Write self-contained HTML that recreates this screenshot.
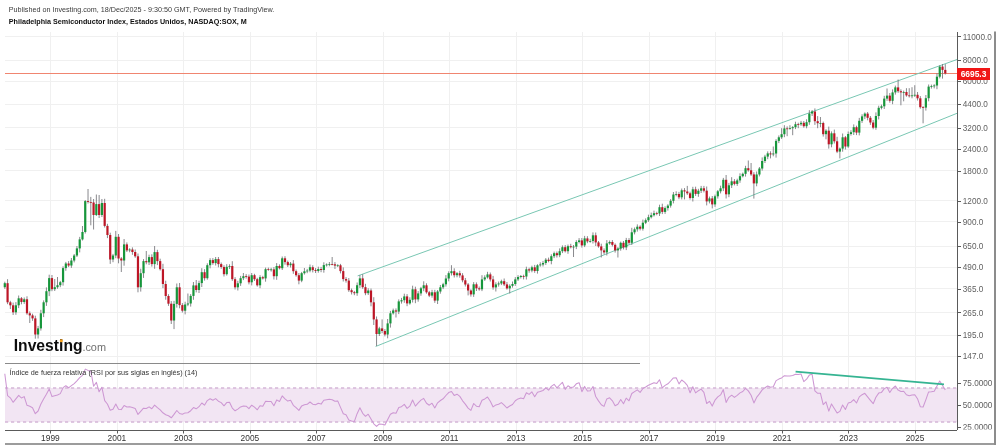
<!DOCTYPE html>
<html lang="es"><head><meta charset="utf-8"><title>Philadelphia Semiconductor Index</title>
<style>html,body{margin:0;padding:0;background:#fff}body{width:999px;height:447px;overflow:hidden}</style></head>
<body>
<svg width="999" height="447" viewBox="0 0 999 447" style="display:block;font-family:'Liberation Sans',Arial,sans-serif">
<rect width="999" height="447" fill="#fff"/>
<filter id="nf" x="0" y="0" width="999" height="447" filterUnits="userSpaceOnUse"><feGaussianBlur stdDeviation="0.42"/></filter>
<g filter="url(#nf)">
<line x1="5" x2="957" y1="36.5" y2="36.5" stroke="#f0f0f0" stroke-width="1"/>
<line x1="5" x2="957" y1="60.5" y2="60.5" stroke="#f0f0f0" stroke-width="1"/>
<line x1="5" x2="957" y1="81.5" y2="81.5" stroke="#f0f0f0" stroke-width="1"/>
<line x1="5" x2="957" y1="104.5" y2="104.5" stroke="#f0f0f0" stroke-width="1"/>
<line x1="5" x2="957" y1="127.5" y2="127.5" stroke="#f0f0f0" stroke-width="1"/>
<line x1="5" x2="957" y1="149.5" y2="149.5" stroke="#f0f0f0" stroke-width="1"/>
<line x1="5" x2="957" y1="170.5" y2="170.5" stroke="#f0f0f0" stroke-width="1"/>
<line x1="5" x2="957" y1="200.5" y2="200.5" stroke="#f0f0f0" stroke-width="1"/>
<line x1="5" x2="957" y1="221.5" y2="221.5" stroke="#f0f0f0" stroke-width="1"/>
<line x1="5" x2="957" y1="246.5" y2="246.5" stroke="#f0f0f0" stroke-width="1"/>
<line x1="5" x2="957" y1="267.5" y2="267.5" stroke="#f0f0f0" stroke-width="1"/>
<line x1="5" x2="957" y1="288.5" y2="288.5" stroke="#f0f0f0" stroke-width="1"/>
<line x1="5" x2="957" y1="312.5" y2="312.5" stroke="#f0f0f0" stroke-width="1"/>
<line x1="5" x2="957" y1="335.5" y2="335.5" stroke="#f0f0f0" stroke-width="1"/>
<line x1="5" x2="957" y1="356.5" y2="356.5" stroke="#f0f0f0" stroke-width="1"/>
<line x1="50.5" x2="50.5" y1="32" y2="430" stroke="#f0f0f0" stroke-width="1"/>
<line x1="117.5" x2="117.5" y1="32" y2="430" stroke="#f0f0f0" stroke-width="1"/>
<line x1="183.5" x2="183.5" y1="32" y2="430" stroke="#f0f0f0" stroke-width="1"/>
<line x1="250.5" x2="250.5" y1="32" y2="430" stroke="#f0f0f0" stroke-width="1"/>
<line x1="316.5" x2="316.5" y1="32" y2="430" stroke="#f0f0f0" stroke-width="1"/>
<line x1="383.5" x2="383.5" y1="32" y2="430" stroke="#f0f0f0" stroke-width="1"/>
<line x1="449.5" x2="449.5" y1="32" y2="430" stroke="#f0f0f0" stroke-width="1"/>
<line x1="516.5" x2="516.5" y1="32" y2="430" stroke="#f0f0f0" stroke-width="1"/>
<line x1="582.5" x2="582.5" y1="32" y2="430" stroke="#f0f0f0" stroke-width="1"/>
<line x1="649.5" x2="649.5" y1="32" y2="430" stroke="#f0f0f0" stroke-width="1"/>
<line x1="715.5" x2="715.5" y1="32" y2="430" stroke="#f0f0f0" stroke-width="1"/>
<line x1="782.5" x2="782.5" y1="32" y2="430" stroke="#f0f0f0" stroke-width="1"/>
<line x1="848.5" x2="848.5" y1="32" y2="430" stroke="#f0f0f0" stroke-width="1"/>
<line x1="915.5" x2="915.5" y1="32" y2="430" stroke="#f0f0f0" stroke-width="1"/>
<rect x="5" y="388" width="952" height="34" fill="#f2e5f3"/>
<line x1="5" x2="957" y1="388" y2="388" stroke="#d5b6d8" stroke-width="1.3" stroke-dasharray="3.2,2.8"/>
<line x1="5" x2="957" y1="422" y2="422" stroke="#d5b6d8" stroke-width="1.3" stroke-dasharray="3.2,2.8"/>
<line x1="5" x2="957" y1="73.5" y2="73.5" stroke="#f0856f" stroke-width="1"/>
<line x1="357.6" y1="275.9" x2="957" y2="59.5" stroke="#79c7b3" stroke-width="1"/>
<line x1="375.6" y1="346.5" x2="957" y2="113.3" stroke="#79c7b3" stroke-width="1"/>
<line x1="4.80" x2="4.80" y1="281.7" y2="288.9" stroke="#7c7c80" stroke-width="0.9"/>
<rect x="3.70" y="283.2" width="2.2" height="4.0" fill="#17963a"/>
<line x1="7.57" x2="7.57" y1="279.2" y2="304.2" stroke="#7c7c80" stroke-width="0.9"/>
<rect x="6.47" y="283.2" width="2.2" height="19.1" fill="#bd1626"/>
<line x1="10.35" x2="10.35" y1="300.8" y2="309.0" stroke="#7c7c80" stroke-width="0.9"/>
<rect x="9.25" y="302.3" width="2.2" height="3.0" fill="#bd1626"/>
<line x1="13.12" x2="13.12" y1="302.6" y2="315.0" stroke="#7c7c80" stroke-width="0.9"/>
<rect x="12.02" y="305.3" width="2.2" height="7.0" fill="#bd1626"/>
<line x1="15.90" x2="15.90" y1="302.1" y2="314.8" stroke="#7c7c80" stroke-width="0.9"/>
<rect x="14.80" y="305.3" width="2.2" height="7.0" fill="#17963a"/>
<line x1="18.67" x2="18.67" y1="295.5" y2="308.1" stroke="#7c7c80" stroke-width="0.9"/>
<rect x="17.57" y="298.3" width="2.2" height="7.0" fill="#17963a"/>
<line x1="21.45" x2="21.45" y1="297.0" y2="304.3" stroke="#7c7c80" stroke-width="0.9"/>
<rect x="20.35" y="298.3" width="2.2" height="3.7" fill="#bd1626"/>
<line x1="24.22" x2="24.22" y1="297.5" y2="303.9" stroke="#7c7c80" stroke-width="0.9"/>
<rect x="23.12" y="299.3" width="2.2" height="2.7" fill="#17963a"/>
<line x1="26.99" x2="26.99" y1="296.3" y2="314.8" stroke="#7c7c80" stroke-width="0.9"/>
<rect x="25.89" y="299.3" width="2.2" height="14.0" fill="#bd1626"/>
<line x1="29.77" x2="29.77" y1="311.4" y2="323.0" stroke="#7c7c80" stroke-width="0.9"/>
<rect x="28.67" y="313.3" width="2.2" height="2.1" fill="#bd1626"/>
<line x1="32.54" x2="32.54" y1="313.7" y2="320.8" stroke="#7c7c80" stroke-width="0.9"/>
<rect x="31.44" y="315.4" width="2.2" height="3.0" fill="#bd1626"/>
<line x1="35.32" x2="35.32" y1="315.7" y2="338.7" stroke="#7c7c80" stroke-width="0.9"/>
<rect x="34.22" y="318.4" width="2.2" height="16.1" fill="#bd1626"/>
<line x1="38.09" x2="38.09" y1="325.9" y2="338.5" stroke="#7c7c80" stroke-width="0.9"/>
<rect x="36.99" y="328.4" width="2.2" height="6.1" fill="#17963a"/>
<line x1="40.87" x2="40.87" y1="309.8" y2="330.6" stroke="#7c7c80" stroke-width="0.9"/>
<rect x="39.77" y="313.3" width="2.2" height="15.1" fill="#17963a"/>
<line x1="43.64" x2="43.64" y1="300.4" y2="317.1" stroke="#7c7c80" stroke-width="0.9"/>
<rect x="42.54" y="302.3" width="2.2" height="11.0" fill="#17963a"/>
<line x1="46.41" x2="46.41" y1="287.4" y2="305.9" stroke="#7c7c80" stroke-width="0.9"/>
<rect x="45.31" y="291.2" width="2.2" height="11.1" fill="#17963a"/>
<line x1="49.19" x2="49.19" y1="274.7" y2="296.1" stroke="#7c7c80" stroke-width="0.9"/>
<rect x="48.09" y="278.1" width="2.2" height="13.1" fill="#17963a"/>
<line x1="51.96" x2="51.96" y1="275.0" y2="291.2" stroke="#7c7c80" stroke-width="0.9"/>
<rect x="50.86" y="278.1" width="2.2" height="11.1" fill="#bd1626"/>
<line x1="54.74" x2="54.74" y1="279.0" y2="291.0" stroke="#7c7c80" stroke-width="0.9"/>
<rect x="53.64" y="287.2" width="2.2" height="2.0" fill="#17963a"/>
<line x1="57.51" x2="57.51" y1="277.0" y2="288.8" stroke="#7c7c80" stroke-width="0.9"/>
<rect x="56.41" y="285.2" width="2.2" height="2.0" fill="#17963a"/>
<line x1="60.29" x2="60.29" y1="280.9" y2="287.2" stroke="#7c7c80" stroke-width="0.9"/>
<rect x="59.19" y="282.2" width="2.2" height="3.0" fill="#17963a"/>
<line x1="63.06" x2="63.06" y1="266.3" y2="285.6" stroke="#7c7c80" stroke-width="0.9"/>
<rect x="61.96" y="268.1" width="2.2" height="14.1" fill="#17963a"/>
<line x1="65.83" x2="65.83" y1="261.9" y2="270.8" stroke="#7c7c80" stroke-width="0.9"/>
<rect x="64.73" y="263.5" width="2.2" height="4.6" fill="#17963a"/>
<line x1="68.61" x2="68.61" y1="261.1" y2="267.1" stroke="#7c7c80" stroke-width="0.9"/>
<rect x="67.51" y="263.5" width="2.2" height="2.0" fill="#bd1626"/>
<line x1="71.38" x2="71.38" y1="258.0" y2="267.9" stroke="#7c7c80" stroke-width="0.9"/>
<rect x="70.28" y="260.5" width="2.2" height="5.0" fill="#17963a"/>
<line x1="74.16" x2="74.16" y1="254.0" y2="262.4" stroke="#7c7c80" stroke-width="0.9"/>
<rect x="73.06" y="255.5" width="2.2" height="5.0" fill="#17963a"/>
<line x1="76.93" x2="76.93" y1="246.0" y2="257.0" stroke="#7c7c80" stroke-width="0.9"/>
<rect x="75.83" y="248.4" width="2.2" height="7.1" fill="#17963a"/>
<line x1="79.71" x2="79.71" y1="236.9" y2="252.4" stroke="#7c7c80" stroke-width="0.9"/>
<rect x="78.61" y="239.4" width="2.2" height="9.0" fill="#17963a"/>
<line x1="82.48" x2="82.48" y1="226.0" y2="240.5" stroke="#7c7c80" stroke-width="0.9"/>
<rect x="81.38" y="232.0" width="2.2" height="7.4" fill="#17963a"/>
<line x1="85.25" x2="85.25" y1="200.0" y2="233.5" stroke="#7c7c80" stroke-width="0.9"/>
<rect x="84.15" y="201.1" width="2.2" height="30.9" fill="#17963a"/>
<line x1="88.03" x2="88.03" y1="189.0" y2="203.5" stroke="#7c7c80" stroke-width="0.9"/>
<rect x="86.93" y="201.1" width="2.2" height="0.9" fill="#bd1626"/>
<line x1="90.80" x2="90.80" y1="196.9" y2="225.3" stroke="#7c7c80" stroke-width="0.9"/>
<rect x="89.70" y="202.0" width="2.2" height="0.8" fill="#bd1626"/>
<line x1="93.58" x2="93.58" y1="199.0" y2="229.5" stroke="#7c7c80" stroke-width="0.9"/>
<rect x="92.48" y="202.5" width="2.2" height="12.5" fill="#bd1626"/>
<line x1="96.35" x2="96.35" y1="194.5" y2="216.0" stroke="#7c7c80" stroke-width="0.9"/>
<rect x="95.25" y="204.1" width="2.2" height="10.9" fill="#17963a"/>
<line x1="99.13" x2="99.13" y1="195.0" y2="218.0" stroke="#7c7c80" stroke-width="0.9"/>
<rect x="98.03" y="204.1" width="2.2" height="10.9" fill="#bd1626"/>
<line x1="101.90" x2="101.90" y1="199.0" y2="217.0" stroke="#7c7c80" stroke-width="0.9"/>
<rect x="100.80" y="203.0" width="2.2" height="12.0" fill="#17963a"/>
<line x1="104.67" x2="104.67" y1="198.8" y2="227.5" stroke="#7c7c80" stroke-width="0.9"/>
<rect x="103.57" y="203.0" width="2.2" height="22.9" fill="#bd1626"/>
<line x1="107.45" x2="107.45" y1="223.8" y2="238.1" stroke="#7c7c80" stroke-width="0.9"/>
<rect x="106.35" y="225.9" width="2.2" height="9.1" fill="#bd1626"/>
<line x1="110.22" x2="110.22" y1="232.7" y2="263.9" stroke="#7c7c80" stroke-width="0.9"/>
<rect x="109.12" y="235.0" width="2.2" height="24.5" fill="#bd1626"/>
<line x1="113.00" x2="113.00" y1="253.9" y2="262.2" stroke="#7c7c80" stroke-width="0.9"/>
<rect x="111.90" y="255.5" width="2.2" height="4.0" fill="#17963a"/>
<line x1="115.77" x2="115.77" y1="230.9" y2="258.2" stroke="#7c7c80" stroke-width="0.9"/>
<rect x="114.67" y="236.8" width="2.2" height="18.7" fill="#17963a"/>
<line x1="118.55" x2="118.55" y1="234.0" y2="263.3" stroke="#7c7c80" stroke-width="0.9"/>
<rect x="117.45" y="236.8" width="2.2" height="21.7" fill="#bd1626"/>
<line x1="121.32" x2="121.32" y1="257.1" y2="272.0" stroke="#7c7c80" stroke-width="0.9"/>
<rect x="120.22" y="258.5" width="2.2" height="2.0" fill="#bd1626"/>
<line x1="124.09" x2="124.09" y1="239.0" y2="265.7" stroke="#7c7c80" stroke-width="0.9"/>
<rect x="122.99" y="244.4" width="2.2" height="16.1" fill="#17963a"/>
<line x1="126.87" x2="126.87" y1="242.4" y2="252.0" stroke="#7c7c80" stroke-width="0.9"/>
<rect x="125.77" y="244.4" width="2.2" height="6.0" fill="#bd1626"/>
<line x1="129.64" x2="129.64" y1="248.2" y2="252.3" stroke="#7c7c80" stroke-width="0.9"/>
<rect x="128.54" y="249.5" width="2.2" height="0.9" fill="#17963a"/>
<line x1="132.42" x2="132.42" y1="247.4" y2="254.8" stroke="#7c7c80" stroke-width="0.9"/>
<rect x="131.32" y="249.5" width="2.2" height="2.5" fill="#bd1626"/>
<line x1="135.19" x2="135.19" y1="249.5" y2="257.8" stroke="#7c7c80" stroke-width="0.9"/>
<rect x="134.09" y="252.0" width="2.2" height="4.3" fill="#bd1626"/>
<line x1="137.97" x2="137.97" y1="253.5" y2="292.3" stroke="#7c7c80" stroke-width="0.9"/>
<rect x="136.87" y="256.3" width="2.2" height="31.0" fill="#bd1626"/>
<line x1="140.74" x2="140.74" y1="268.7" y2="291.6" stroke="#7c7c80" stroke-width="0.9"/>
<rect x="139.64" y="273.2" width="2.2" height="14.1" fill="#17963a"/>
<line x1="143.52" x2="143.52" y1="259.1" y2="277.9" stroke="#7c7c80" stroke-width="0.9"/>
<rect x="142.42" y="261.1" width="2.2" height="12.1" fill="#17963a"/>
<line x1="146.29" x2="146.29" y1="251.0" y2="264.3" stroke="#7c7c80" stroke-width="0.9"/>
<rect x="145.19" y="261.1" width="2.2" height="1.2" fill="#bd1626"/>
<line x1="149.06" x2="149.06" y1="254.7" y2="265.0" stroke="#7c7c80" stroke-width="0.9"/>
<rect x="147.96" y="257.1" width="2.2" height="5.2" fill="#17963a"/>
<line x1="151.84" x2="151.84" y1="254.3" y2="266.6" stroke="#7c7c80" stroke-width="0.9"/>
<rect x="150.74" y="257.1" width="2.2" height="7.0" fill="#bd1626"/>
<line x1="154.61" x2="154.61" y1="246.0" y2="268.8" stroke="#7c7c80" stroke-width="0.9"/>
<rect x="153.51" y="252.1" width="2.2" height="12.0" fill="#17963a"/>
<line x1="157.39" x2="157.39" y1="249.8" y2="265.1" stroke="#7c7c80" stroke-width="0.9"/>
<rect x="156.29" y="252.1" width="2.2" height="9.0" fill="#bd1626"/>
<line x1="160.16" x2="160.16" y1="258.7" y2="270.5" stroke="#7c7c80" stroke-width="0.9"/>
<rect x="159.06" y="261.1" width="2.2" height="8.1" fill="#bd1626"/>
<line x1="162.94" x2="162.94" y1="263.8" y2="288.1" stroke="#7c7c80" stroke-width="0.9"/>
<rect x="161.84" y="269.2" width="2.2" height="14.8" fill="#bd1626"/>
<line x1="165.71" x2="165.71" y1="280.7" y2="299.7" stroke="#7c7c80" stroke-width="0.9"/>
<rect x="164.61" y="284.0" width="2.2" height="12.0" fill="#bd1626"/>
<line x1="168.48" x2="168.48" y1="294.2" y2="305.9" stroke="#7c7c80" stroke-width="0.9"/>
<rect x="167.38" y="296.0" width="2.2" height="7.7" fill="#bd1626"/>
<line x1="171.26" x2="171.26" y1="301.1" y2="324.0" stroke="#7c7c80" stroke-width="0.9"/>
<rect x="170.16" y="303.7" width="2.2" height="16.8" fill="#bd1626"/>
<line x1="174.03" x2="174.03" y1="300.9" y2="329.1" stroke="#7c7c80" stroke-width="0.9"/>
<rect x="172.93" y="303.9" width="2.2" height="16.6" fill="#17963a"/>
<line x1="176.81" x2="176.81" y1="283.5" y2="307.6" stroke="#7c7c80" stroke-width="0.9"/>
<rect x="175.71" y="287.3" width="2.2" height="16.6" fill="#17963a"/>
<line x1="179.58" x2="179.58" y1="283.0" y2="308.3" stroke="#7c7c80" stroke-width="0.9"/>
<rect x="178.48" y="287.3" width="2.2" height="17.8" fill="#bd1626"/>
<line x1="182.36" x2="182.36" y1="303.1" y2="312.5" stroke="#7c7c80" stroke-width="0.9"/>
<rect x="181.26" y="305.1" width="2.2" height="5.6" fill="#bd1626"/>
<line x1="185.13" x2="185.13" y1="301.7" y2="314.4" stroke="#7c7c80" stroke-width="0.9"/>
<rect x="184.03" y="304.5" width="2.2" height="6.2" fill="#17963a"/>
<line x1="187.90" x2="187.90" y1="293.5" y2="306.2" stroke="#7c7c80" stroke-width="0.9"/>
<rect x="186.80" y="303.5" width="2.2" height="1.0" fill="#17963a"/>
<line x1="190.68" x2="190.68" y1="294.1" y2="306.6" stroke="#7c7c80" stroke-width="0.9"/>
<rect x="189.58" y="295.9" width="2.2" height="7.6" fill="#17963a"/>
<line x1="193.45" x2="193.45" y1="282.0" y2="299.8" stroke="#7c7c80" stroke-width="0.9"/>
<rect x="192.35" y="285.4" width="2.2" height="10.5" fill="#17963a"/>
<line x1="196.23" x2="196.23" y1="280.0" y2="292.4" stroke="#7c7c80" stroke-width="0.9"/>
<rect x="195.13" y="285.4" width="2.2" height="4.6" fill="#bd1626"/>
<line x1="199.00" x2="199.00" y1="280.7" y2="293.0" stroke="#7c7c80" stroke-width="0.9"/>
<rect x="197.90" y="283.1" width="2.2" height="6.9" fill="#17963a"/>
<line x1="201.78" x2="201.78" y1="268.2" y2="287.0" stroke="#7c7c80" stroke-width="0.9"/>
<rect x="200.68" y="272.2" width="2.2" height="10.9" fill="#17963a"/>
<line x1="204.55" x2="204.55" y1="269.2" y2="280.6" stroke="#7c7c80" stroke-width="0.9"/>
<rect x="203.45" y="272.2" width="2.2" height="6.0" fill="#bd1626"/>
<line x1="207.32" x2="207.32" y1="263.3" y2="279.7" stroke="#7c7c80" stroke-width="0.9"/>
<rect x="206.22" y="265.2" width="2.2" height="13.0" fill="#17963a"/>
<line x1="210.10" x2="210.10" y1="258.2" y2="268.3" stroke="#7c7c80" stroke-width="0.9"/>
<rect x="209.00" y="260.1" width="2.2" height="5.1" fill="#17963a"/>
<line x1="212.87" x2="212.87" y1="258.1" y2="264.8" stroke="#7c7c80" stroke-width="0.9"/>
<rect x="211.77" y="260.1" width="2.2" height="3.0" fill="#bd1626"/>
<line x1="215.65" x2="215.65" y1="257.0" y2="265.5" stroke="#7c7c80" stroke-width="0.9"/>
<rect x="214.55" y="259.1" width="2.2" height="4.0" fill="#17963a"/>
<line x1="218.42" x2="218.42" y1="257.0" y2="267.3" stroke="#7c7c80" stroke-width="0.9"/>
<rect x="217.32" y="259.1" width="2.2" height="5.0" fill="#bd1626"/>
<line x1="221.20" x2="221.20" y1="262.5" y2="268.8" stroke="#7c7c80" stroke-width="0.9"/>
<rect x="220.10" y="264.1" width="2.2" height="2.9" fill="#bd1626"/>
<line x1="223.97" x2="223.97" y1="265.3" y2="276.5" stroke="#7c7c80" stroke-width="0.9"/>
<rect x="222.87" y="267.0" width="2.2" height="7.2" fill="#bd1626"/>
<line x1="226.74" x2="226.74" y1="264.2" y2="275.6" stroke="#7c7c80" stroke-width="0.9"/>
<rect x="225.64" y="266.8" width="2.2" height="7.4" fill="#17963a"/>
<line x1="229.52" x2="229.52" y1="264.3" y2="269.0" stroke="#7c7c80" stroke-width="0.9"/>
<rect x="228.42" y="266.0" width="2.2" height="0.8" fill="#17963a"/>
<line x1="232.29" x2="232.29" y1="261.2" y2="280.9" stroke="#7c7c80" stroke-width="0.9"/>
<rect x="231.19" y="266.0" width="2.2" height="13.2" fill="#bd1626"/>
<line x1="235.07" x2="235.07" y1="277.2" y2="289.5" stroke="#7c7c80" stroke-width="0.9"/>
<rect x="233.97" y="279.2" width="2.2" height="8.1" fill="#bd1626"/>
<line x1="237.84" x2="237.84" y1="280.8" y2="290.5" stroke="#7c7c80" stroke-width="0.9"/>
<rect x="236.74" y="283.3" width="2.2" height="4.0" fill="#17963a"/>
<line x1="240.62" x2="240.62" y1="275.9" y2="285.9" stroke="#7c7c80" stroke-width="0.9"/>
<rect x="239.52" y="278.2" width="2.2" height="5.1" fill="#17963a"/>
<line x1="243.39" x2="243.39" y1="273.0" y2="280.1" stroke="#7c7c80" stroke-width="0.9"/>
<rect x="242.29" y="276.2" width="2.2" height="2.0" fill="#17963a"/>
<line x1="246.16" x2="246.16" y1="274.1" y2="278.6" stroke="#7c7c80" stroke-width="0.9"/>
<rect x="245.06" y="276.2" width="2.2" height="0.8" fill="#bd1626"/>
<line x1="248.94" x2="248.94" y1="274.5" y2="284.4" stroke="#7c7c80" stroke-width="0.9"/>
<rect x="247.84" y="276.6" width="2.2" height="5.7" fill="#bd1626"/>
<line x1="251.71" x2="251.71" y1="273.0" y2="285.4" stroke="#7c7c80" stroke-width="0.9"/>
<rect x="250.61" y="275.2" width="2.2" height="7.1" fill="#17963a"/>
<line x1="254.49" x2="254.49" y1="273.8" y2="281.0" stroke="#7c7c80" stroke-width="0.9"/>
<rect x="253.39" y="275.2" width="2.2" height="4.0" fill="#bd1626"/>
<line x1="257.26" x2="257.26" y1="277.8" y2="286.6" stroke="#7c7c80" stroke-width="0.9"/>
<rect x="256.16" y="279.2" width="2.2" height="6.1" fill="#bd1626"/>
<line x1="260.04" x2="260.04" y1="275.2" y2="288.2" stroke="#7c7c80" stroke-width="0.9"/>
<rect x="258.94" y="277.2" width="2.2" height="8.1" fill="#17963a"/>
<line x1="262.81" x2="262.81" y1="275.8" y2="279.5" stroke="#7c7c80" stroke-width="0.9"/>
<rect x="261.71" y="277.2" width="2.2" height="1.2" fill="#bd1626"/>
<line x1="265.58" x2="265.58" y1="267.6" y2="281.7" stroke="#7c7c80" stroke-width="0.9"/>
<rect x="264.48" y="269.2" width="2.2" height="9.2" fill="#17963a"/>
<line x1="268.36" x2="268.36" y1="267.6" y2="270.8" stroke="#7c7c80" stroke-width="0.9"/>
<rect x="267.26" y="269.2" width="2.2" height="0.8" fill="#bd1626"/>
<line x1="271.13" x2="271.13" y1="267.8" y2="271.6" stroke="#7c7c80" stroke-width="0.9"/>
<rect x="270.03" y="269.4" width="2.2" height="0.8" fill="#17963a"/>
<line x1="273.91" x2="273.91" y1="267.1" y2="279.5" stroke="#7c7c80" stroke-width="0.9"/>
<rect x="272.81" y="269.4" width="2.2" height="6.8" fill="#bd1626"/>
<line x1="276.68" x2="276.68" y1="263.1" y2="279.8" stroke="#7c7c80" stroke-width="0.9"/>
<rect x="275.58" y="266.0" width="2.2" height="10.2" fill="#17963a"/>
<line x1="279.46" x2="279.46" y1="264.4" y2="269.4" stroke="#7c7c80" stroke-width="0.9"/>
<rect x="278.36" y="266.0" width="2.2" height="2.2" fill="#bd1626"/>
<line x1="282.23" x2="282.23" y1="256.5" y2="270.0" stroke="#7c7c80" stroke-width="0.9"/>
<rect x="281.13" y="258.3" width="2.2" height="9.9" fill="#17963a"/>
<line x1="285.00" x2="285.00" y1="256.2" y2="264.7" stroke="#7c7c80" stroke-width="0.9"/>
<rect x="283.90" y="258.3" width="2.2" height="3.8" fill="#bd1626"/>
<line x1="287.78" x2="287.78" y1="260.6" y2="267.0" stroke="#7c7c80" stroke-width="0.9"/>
<rect x="286.68" y="262.1" width="2.2" height="3.1" fill="#bd1626"/>
<line x1="290.55" x2="290.55" y1="262.0" y2="267.5" stroke="#7c7c80" stroke-width="0.9"/>
<rect x="289.45" y="263.6" width="2.2" height="1.6" fill="#17963a"/>
<line x1="293.33" x2="293.33" y1="260.1" y2="273.8" stroke="#7c7c80" stroke-width="0.9"/>
<rect x="292.23" y="263.6" width="2.2" height="7.6" fill="#bd1626"/>
<line x1="296.10" x2="296.10" y1="269.5" y2="276.7" stroke="#7c7c80" stroke-width="0.9"/>
<rect x="295.00" y="271.2" width="2.2" height="4.0" fill="#bd1626"/>
<line x1="298.88" x2="298.88" y1="273.0" y2="284.3" stroke="#7c7c80" stroke-width="0.9"/>
<rect x="297.78" y="275.2" width="2.2" height="5.4" fill="#bd1626"/>
<line x1="301.65" x2="301.65" y1="271.9" y2="282.2" stroke="#7c7c80" stroke-width="0.9"/>
<rect x="300.55" y="273.2" width="2.2" height="7.4" fill="#17963a"/>
<line x1="304.42" x2="304.42" y1="268.0" y2="274.6" stroke="#7c7c80" stroke-width="0.9"/>
<rect x="303.32" y="271.3" width="2.2" height="1.9" fill="#17963a"/>
<line x1="307.20" x2="307.20" y1="268.9" y2="273.2" stroke="#7c7c80" stroke-width="0.9"/>
<rect x="306.10" y="270.6" width="2.2" height="0.8" fill="#17963a"/>
<line x1="309.97" x2="309.97" y1="264.5" y2="272.3" stroke="#7c7c80" stroke-width="0.9"/>
<rect x="308.87" y="267.2" width="2.2" height="3.4" fill="#17963a"/>
<line x1="312.75" x2="312.75" y1="265.3" y2="272.4" stroke="#7c7c80" stroke-width="0.9"/>
<rect x="311.65" y="267.2" width="2.2" height="2.9" fill="#bd1626"/>
<line x1="315.52" x2="315.52" y1="268.1" y2="273.0" stroke="#7c7c80" stroke-width="0.9"/>
<rect x="314.42" y="270.1" width="2.2" height="0.9" fill="#bd1626"/>
<line x1="318.30" x2="318.30" y1="266.7" y2="272.7" stroke="#7c7c80" stroke-width="0.9"/>
<rect x="317.20" y="269.0" width="2.2" height="2.0" fill="#17963a"/>
<line x1="321.07" x2="321.07" y1="266.9" y2="272.2" stroke="#7c7c80" stroke-width="0.9"/>
<rect x="319.97" y="269.0" width="2.2" height="1.0" fill="#bd1626"/>
<line x1="323.84" x2="323.84" y1="262.3" y2="272.7" stroke="#7c7c80" stroke-width="0.9"/>
<rect x="322.74" y="265.1" width="2.2" height="4.9" fill="#17963a"/>
<line x1="326.62" x2="326.62" y1="263.4" y2="266.6" stroke="#7c7c80" stroke-width="0.9"/>
<rect x="325.52" y="264.5" width="2.2" height="0.8" fill="#17963a"/>
<line x1="329.39" x2="329.39" y1="262.0" y2="266.3" stroke="#7c7c80" stroke-width="0.9"/>
<rect x="328.29" y="264.0" width="2.2" height="0.8" fill="#17963a"/>
<line x1="332.17" x2="332.17" y1="257.0" y2="265.3" stroke="#7c7c80" stroke-width="0.9"/>
<rect x="331.07" y="264.0" width="2.2" height="0.8" fill="#bd1626"/>
<line x1="334.94" x2="334.94" y1="262.1" y2="269.0" stroke="#7c7c80" stroke-width="0.9"/>
<rect x="333.84" y="264.3" width="2.2" height="1.3" fill="#bd1626"/>
<line x1="337.72" x2="337.72" y1="264.2" y2="267.0" stroke="#7c7c80" stroke-width="0.9"/>
<rect x="336.62" y="265.3" width="2.2" height="0.8" fill="#17963a"/>
<line x1="340.49" x2="340.49" y1="263.9" y2="273.4" stroke="#7c7c80" stroke-width="0.9"/>
<rect x="339.39" y="265.3" width="2.2" height="5.8" fill="#bd1626"/>
<line x1="343.26" x2="343.26" y1="267.4" y2="281.5" stroke="#7c7c80" stroke-width="0.9"/>
<rect x="342.16" y="271.1" width="2.2" height="8.0" fill="#bd1626"/>
<line x1="346.04" x2="346.04" y1="277.1" y2="282.6" stroke="#7c7c80" stroke-width="0.9"/>
<rect x="344.94" y="279.1" width="2.2" height="1.5" fill="#bd1626"/>
<line x1="348.81" x2="348.81" y1="278.0" y2="291.9" stroke="#7c7c80" stroke-width="0.9"/>
<rect x="347.71" y="280.6" width="2.2" height="9.6" fill="#bd1626"/>
<line x1="351.59" x2="351.59" y1="288.5" y2="294.5" stroke="#7c7c80" stroke-width="0.9"/>
<rect x="350.49" y="290.2" width="2.2" height="2.0" fill="#bd1626"/>
<line x1="354.36" x2="354.36" y1="290.9" y2="295.2" stroke="#7c7c80" stroke-width="0.9"/>
<rect x="353.26" y="292.2" width="2.2" height="1.0" fill="#bd1626"/>
<line x1="357.14" x2="357.14" y1="282.5" y2="295.8" stroke="#7c7c80" stroke-width="0.9"/>
<rect x="356.04" y="285.2" width="2.2" height="8.0" fill="#17963a"/>
<line x1="359.91" x2="359.91" y1="275.0" y2="288.0" stroke="#7c7c80" stroke-width="0.9"/>
<rect x="358.81" y="278.4" width="2.2" height="6.8" fill="#17963a"/>
<line x1="362.68" x2="362.68" y1="274.1" y2="288.8" stroke="#7c7c80" stroke-width="0.9"/>
<rect x="361.58" y="278.4" width="2.2" height="8.8" fill="#bd1626"/>
<line x1="365.46" x2="365.46" y1="283.8" y2="295.2" stroke="#7c7c80" stroke-width="0.9"/>
<rect x="364.36" y="287.2" width="2.2" height="6.0" fill="#bd1626"/>
<line x1="368.23" x2="368.23" y1="288.2" y2="295.0" stroke="#7c7c80" stroke-width="0.9"/>
<rect x="367.13" y="290.5" width="2.2" height="2.7" fill="#17963a"/>
<line x1="371.01" x2="371.01" y1="288.5" y2="306.3" stroke="#7c7c80" stroke-width="0.9"/>
<rect x="369.91" y="290.5" width="2.2" height="11.8" fill="#bd1626"/>
<line x1="373.78" x2="373.78" y1="297.2" y2="325.0" stroke="#7c7c80" stroke-width="0.9"/>
<rect x="372.68" y="302.3" width="2.2" height="17.1" fill="#bd1626"/>
<line x1="376.56" x2="376.56" y1="316.5" y2="346.0" stroke="#7c7c80" stroke-width="0.9"/>
<rect x="375.46" y="319.4" width="2.2" height="14.6" fill="#bd1626"/>
<line x1="379.33" x2="379.33" y1="326.8" y2="336.0" stroke="#7c7c80" stroke-width="0.9"/>
<rect x="378.23" y="328.4" width="2.2" height="5.6" fill="#17963a"/>
<line x1="382.10" x2="382.10" y1="319.4" y2="333.2" stroke="#7c7c80" stroke-width="0.9"/>
<rect x="381.00" y="328.4" width="2.2" height="2.6" fill="#bd1626"/>
<line x1="384.88" x2="384.88" y1="329.1" y2="336.4" stroke="#7c7c80" stroke-width="0.9"/>
<rect x="383.78" y="331.0" width="2.2" height="3.5" fill="#bd1626"/>
<line x1="387.65" x2="387.65" y1="319.0" y2="338.3" stroke="#7c7c80" stroke-width="0.9"/>
<rect x="386.55" y="323.4" width="2.2" height="11.1" fill="#17963a"/>
<line x1="390.43" x2="390.43" y1="310.9" y2="327.6" stroke="#7c7c80" stroke-width="0.9"/>
<rect x="389.33" y="313.3" width="2.2" height="10.1" fill="#17963a"/>
<line x1="393.20" x2="393.20" y1="308.6" y2="314.6" stroke="#7c7c80" stroke-width="0.9"/>
<rect x="392.10" y="310.4" width="2.2" height="2.9" fill="#17963a"/>
<line x1="395.98" x2="395.98" y1="308.4" y2="317.5" stroke="#7c7c80" stroke-width="0.9"/>
<rect x="394.88" y="310.4" width="2.2" height="1.2" fill="#bd1626"/>
<line x1="398.75" x2="398.75" y1="299.4" y2="314.1" stroke="#7c7c80" stroke-width="0.9"/>
<rect x="397.65" y="301.4" width="2.2" height="10.2" fill="#17963a"/>
<line x1="401.52" x2="401.52" y1="297.9" y2="303.6" stroke="#7c7c80" stroke-width="0.9"/>
<rect x="400.42" y="300.2" width="2.2" height="1.2" fill="#17963a"/>
<line x1="404.30" x2="404.30" y1="293.7" y2="302.8" stroke="#7c7c80" stroke-width="0.9"/>
<rect x="403.20" y="296.4" width="2.2" height="3.8" fill="#17963a"/>
<line x1="407.07" x2="407.07" y1="294.1" y2="306.2" stroke="#7c7c80" stroke-width="0.9"/>
<rect x="405.97" y="296.4" width="2.2" height="7.0" fill="#bd1626"/>
<line x1="409.85" x2="409.85" y1="297.3" y2="304.7" stroke="#7c7c80" stroke-width="0.9"/>
<rect x="408.75" y="299.8" width="2.2" height="3.6" fill="#17963a"/>
<line x1="412.62" x2="412.62" y1="285.7" y2="302.5" stroke="#7c7c80" stroke-width="0.9"/>
<rect x="411.52" y="289.3" width="2.2" height="10.5" fill="#17963a"/>
<line x1="415.40" x2="415.40" y1="286.7" y2="303.2" stroke="#7c7c80" stroke-width="0.9"/>
<rect x="414.30" y="289.3" width="2.2" height="10.1" fill="#bd1626"/>
<line x1="418.17" x2="418.17" y1="291.1" y2="301.7" stroke="#7c7c80" stroke-width="0.9"/>
<rect x="417.07" y="293.4" width="2.2" height="6.0" fill="#17963a"/>
<line x1="420.95" x2="420.95" y1="286.9" y2="295.8" stroke="#7c7c80" stroke-width="0.9"/>
<rect x="419.85" y="288.3" width="2.2" height="5.1" fill="#17963a"/>
<line x1="423.72" x2="423.72" y1="281.3" y2="291.2" stroke="#7c7c80" stroke-width="0.9"/>
<rect x="422.62" y="285.3" width="2.2" height="3.0" fill="#17963a"/>
<line x1="426.49" x2="426.49" y1="283.3" y2="293.7" stroke="#7c7c80" stroke-width="0.9"/>
<rect x="425.39" y="285.3" width="2.2" height="7.0" fill="#bd1626"/>
<line x1="429.27" x2="429.27" y1="290.9" y2="297.1" stroke="#7c7c80" stroke-width="0.9"/>
<rect x="428.17" y="292.3" width="2.2" height="3.3" fill="#bd1626"/>
<line x1="432.04" x2="432.04" y1="289.8" y2="297.7" stroke="#7c7c80" stroke-width="0.9"/>
<rect x="430.94" y="292.3" width="2.2" height="3.3" fill="#17963a"/>
<line x1="434.82" x2="434.82" y1="289.8" y2="302.8" stroke="#7c7c80" stroke-width="0.9"/>
<rect x="433.72" y="292.3" width="2.2" height="8.3" fill="#bd1626"/>
<line x1="437.59" x2="437.59" y1="290.0" y2="304.0" stroke="#7c7c80" stroke-width="0.9"/>
<rect x="436.49" y="291.5" width="2.2" height="9.1" fill="#17963a"/>
<line x1="440.37" x2="440.37" y1="285.0" y2="293.7" stroke="#7c7c80" stroke-width="0.9"/>
<rect x="439.27" y="287.3" width="2.2" height="4.2" fill="#17963a"/>
<line x1="443.14" x2="443.14" y1="282.8" y2="289.1" stroke="#7c7c80" stroke-width="0.9"/>
<rect x="442.04" y="284.3" width="2.2" height="3.0" fill="#17963a"/>
<line x1="445.91" x2="445.91" y1="275.1" y2="286.6" stroke="#7c7c80" stroke-width="0.9"/>
<rect x="444.81" y="278.5" width="2.2" height="5.8" fill="#17963a"/>
<line x1="448.69" x2="448.69" y1="271.3" y2="281.3" stroke="#7c7c80" stroke-width="0.9"/>
<rect x="447.59" y="273.2" width="2.2" height="5.3" fill="#17963a"/>
<line x1="451.46" x2="451.46" y1="265.2" y2="275.5" stroke="#7c7c80" stroke-width="0.9"/>
<rect x="450.36" y="271.2" width="2.2" height="2.0" fill="#17963a"/>
<line x1="454.24" x2="454.24" y1="268.3" y2="277.5" stroke="#7c7c80" stroke-width="0.9"/>
<rect x="453.14" y="271.2" width="2.2" height="4.0" fill="#bd1626"/>
<line x1="457.01" x2="457.01" y1="272.0" y2="277.3" stroke="#7c7c80" stroke-width="0.9"/>
<rect x="455.91" y="273.2" width="2.2" height="2.0" fill="#17963a"/>
<line x1="459.79" x2="459.79" y1="270.8" y2="277.7" stroke="#7c7c80" stroke-width="0.9"/>
<rect x="458.69" y="273.2" width="2.2" height="2.2" fill="#bd1626"/>
<line x1="462.56" x2="462.56" y1="273.2" y2="282.3" stroke="#7c7c80" stroke-width="0.9"/>
<rect x="461.46" y="275.4" width="2.2" height="4.9" fill="#bd1626"/>
<line x1="465.33" x2="465.33" y1="278.0" y2="286.5" stroke="#7c7c80" stroke-width="0.9"/>
<rect x="464.23" y="280.3" width="2.2" height="4.2" fill="#bd1626"/>
<line x1="468.11" x2="468.11" y1="283.0" y2="295.4" stroke="#7c7c80" stroke-width="0.9"/>
<rect x="467.01" y="284.5" width="2.2" height="6.0" fill="#bd1626"/>
<line x1="470.88" x2="470.88" y1="289.3" y2="296.6" stroke="#7c7c80" stroke-width="0.9"/>
<rect x="469.78" y="290.5" width="2.2" height="3.9" fill="#bd1626"/>
<line x1="473.66" x2="473.66" y1="282.1" y2="296.9" stroke="#7c7c80" stroke-width="0.9"/>
<rect x="472.56" y="284.3" width="2.2" height="10.1" fill="#17963a"/>
<line x1="476.43" x2="476.43" y1="282.4" y2="291.0" stroke="#7c7c80" stroke-width="0.9"/>
<rect x="475.33" y="284.3" width="2.2" height="4.0" fill="#bd1626"/>
<line x1="479.21" x2="479.21" y1="286.5" y2="290.7" stroke="#7c7c80" stroke-width="0.9"/>
<rect x="478.11" y="288.3" width="2.2" height="1.0" fill="#bd1626"/>
<line x1="481.98" x2="481.98" y1="275.2" y2="291.1" stroke="#7c7c80" stroke-width="0.9"/>
<rect x="480.88" y="279.4" width="2.2" height="9.9" fill="#17963a"/>
<line x1="484.75" x2="484.75" y1="275.3" y2="280.9" stroke="#7c7c80" stroke-width="0.9"/>
<rect x="483.65" y="277.4" width="2.2" height="2.0" fill="#17963a"/>
<line x1="487.53" x2="487.53" y1="271.8" y2="278.6" stroke="#7c7c80" stroke-width="0.9"/>
<rect x="486.43" y="274.4" width="2.2" height="3.0" fill="#17963a"/>
<line x1="490.30" x2="490.30" y1="272.5" y2="281.5" stroke="#7c7c80" stroke-width="0.9"/>
<rect x="489.20" y="274.4" width="2.2" height="5.0" fill="#bd1626"/>
<line x1="493.08" x2="493.08" y1="275.9" y2="289.7" stroke="#7c7c80" stroke-width="0.9"/>
<rect x="491.98" y="279.4" width="2.2" height="8.0" fill="#bd1626"/>
<line x1="495.85" x2="495.85" y1="282.3" y2="291.5" stroke="#7c7c80" stroke-width="0.9"/>
<rect x="494.75" y="284.4" width="2.2" height="3.0" fill="#17963a"/>
<line x1="498.63" x2="498.63" y1="281.5" y2="286.6" stroke="#7c7c80" stroke-width="0.9"/>
<rect x="497.53" y="283.5" width="2.2" height="0.9" fill="#17963a"/>
<line x1="501.40" x2="501.40" y1="279.7" y2="285.1" stroke="#7c7c80" stroke-width="0.9"/>
<rect x="500.30" y="281.2" width="2.2" height="2.3" fill="#17963a"/>
<line x1="504.17" x2="504.17" y1="278.5" y2="286.0" stroke="#7c7c80" stroke-width="0.9"/>
<rect x="503.07" y="281.2" width="2.2" height="3.2" fill="#bd1626"/>
<line x1="506.95" x2="506.95" y1="282.0" y2="289.6" stroke="#7c7c80" stroke-width="0.9"/>
<rect x="505.85" y="284.4" width="2.2" height="4.0" fill="#bd1626"/>
<line x1="509.72" x2="509.72" y1="284.3" y2="293.5" stroke="#7c7c80" stroke-width="0.9"/>
<rect x="508.62" y="285.8" width="2.2" height="2.6" fill="#17963a"/>
<line x1="512.50" x2="512.50" y1="281.5" y2="287.6" stroke="#7c7c80" stroke-width="0.9"/>
<rect x="511.40" y="284.0" width="2.2" height="1.8" fill="#17963a"/>
<line x1="515.27" x2="515.27" y1="277.1" y2="285.9" stroke="#7c7c80" stroke-width="0.9"/>
<rect x="514.17" y="279.4" width="2.2" height="4.6" fill="#17963a"/>
<line x1="518.05" x2="518.05" y1="275.1" y2="281.0" stroke="#7c7c80" stroke-width="0.9"/>
<rect x="516.95" y="277.0" width="2.2" height="2.4" fill="#17963a"/>
<line x1="520.82" x2="520.82" y1="275.0" y2="278.5" stroke="#7c7c80" stroke-width="0.9"/>
<rect x="519.72" y="276.0" width="2.2" height="1.0" fill="#17963a"/>
<line x1="523.59" x2="523.59" y1="274.7" y2="279.4" stroke="#7c7c80" stroke-width="0.9"/>
<rect x="522.49" y="276.0" width="2.2" height="0.8" fill="#bd1626"/>
<line x1="526.37" x2="526.37" y1="266.7" y2="279.5" stroke="#7c7c80" stroke-width="0.9"/>
<rect x="525.27" y="269.3" width="2.2" height="7.2" fill="#17963a"/>
<line x1="529.14" x2="529.14" y1="267.7" y2="272.7" stroke="#7c7c80" stroke-width="0.9"/>
<rect x="528.04" y="269.3" width="2.2" height="1.2" fill="#bd1626"/>
<line x1="531.92" x2="531.92" y1="265.7" y2="272.3" stroke="#7c7c80" stroke-width="0.9"/>
<rect x="530.82" y="267.3" width="2.2" height="3.2" fill="#17963a"/>
<line x1="534.69" x2="534.69" y1="264.9" y2="272.8" stroke="#7c7c80" stroke-width="0.9"/>
<rect x="533.59" y="267.3" width="2.2" height="3.7" fill="#bd1626"/>
<line x1="537.47" x2="537.47" y1="264.2" y2="273.6" stroke="#7c7c80" stroke-width="0.9"/>
<rect x="536.37" y="265.3" width="2.2" height="5.7" fill="#17963a"/>
<line x1="540.24" x2="540.24" y1="262.3" y2="266.7" stroke="#7c7c80" stroke-width="0.9"/>
<rect x="539.14" y="264.5" width="2.2" height="0.8" fill="#17963a"/>
<line x1="543.01" x2="543.01" y1="260.9" y2="266.5" stroke="#7c7c80" stroke-width="0.9"/>
<rect x="541.91" y="263.0" width="2.2" height="1.5" fill="#17963a"/>
<line x1="545.79" x2="545.79" y1="258.1" y2="264.9" stroke="#7c7c80" stroke-width="0.9"/>
<rect x="544.69" y="259.7" width="2.2" height="3.3" fill="#17963a"/>
<line x1="548.56" x2="548.56" y1="257.6" y2="262.3" stroke="#7c7c80" stroke-width="0.9"/>
<rect x="547.46" y="259.7" width="2.2" height="1.3" fill="#bd1626"/>
<line x1="551.34" x2="551.34" y1="254.3" y2="264.3" stroke="#7c7c80" stroke-width="0.9"/>
<rect x="550.24" y="256.2" width="2.2" height="4.8" fill="#17963a"/>
<line x1="554.11" x2="554.11" y1="251.6" y2="258.1" stroke="#7c7c80" stroke-width="0.9"/>
<rect x="553.01" y="253.2" width="2.2" height="3.0" fill="#17963a"/>
<line x1="556.89" x2="556.89" y1="251.5" y2="257.5" stroke="#7c7c80" stroke-width="0.9"/>
<rect x="555.79" y="253.2" width="2.2" height="2.0" fill="#bd1626"/>
<line x1="559.66" x2="559.66" y1="248.4" y2="257.2" stroke="#7c7c80" stroke-width="0.9"/>
<rect x="558.56" y="251.2" width="2.2" height="4.0" fill="#17963a"/>
<line x1="562.43" x2="562.43" y1="245.4" y2="253.1" stroke="#7c7c80" stroke-width="0.9"/>
<rect x="561.33" y="247.2" width="2.2" height="4.0" fill="#17963a"/>
<line x1="565.21" x2="565.21" y1="245.1" y2="252.5" stroke="#7c7c80" stroke-width="0.9"/>
<rect x="564.11" y="247.2" width="2.2" height="4.0" fill="#bd1626"/>
<line x1="567.98" x2="567.98" y1="244.5" y2="253.8" stroke="#7c7c80" stroke-width="0.9"/>
<rect x="566.88" y="246.2" width="2.2" height="5.0" fill="#17963a"/>
<line x1="570.76" x2="570.76" y1="243.8" y2="248.4" stroke="#7c7c80" stroke-width="0.9"/>
<rect x="569.66" y="246.2" width="2.2" height="1.0" fill="#bd1626"/>
<line x1="573.53" x2="573.53" y1="245.0" y2="257.0" stroke="#7c7c80" stroke-width="0.9"/>
<rect x="572.43" y="246.6" width="2.2" height="0.8" fill="#17963a"/>
<line x1="576.31" x2="576.31" y1="240.2" y2="249.1" stroke="#7c7c80" stroke-width="0.9"/>
<rect x="575.21" y="242.0" width="2.2" height="4.6" fill="#17963a"/>
<line x1="579.08" x2="579.08" y1="238.1" y2="243.4" stroke="#7c7c80" stroke-width="0.9"/>
<rect x="577.98" y="240.4" width="2.2" height="1.6" fill="#17963a"/>
<line x1="581.85" x2="581.85" y1="238.0" y2="247.6" stroke="#7c7c80" stroke-width="0.9"/>
<rect x="580.75" y="240.4" width="2.2" height="5.0" fill="#bd1626"/>
<line x1="584.63" x2="584.63" y1="235.9" y2="247.1" stroke="#7c7c80" stroke-width="0.9"/>
<rect x="583.53" y="238.4" width="2.2" height="7.0" fill="#17963a"/>
<line x1="587.40" x2="587.40" y1="236.2" y2="243.2" stroke="#7c7c80" stroke-width="0.9"/>
<rect x="586.30" y="238.4" width="2.2" height="3.0" fill="#bd1626"/>
<line x1="590.18" x2="590.18" y1="238.8" y2="242.7" stroke="#7c7c80" stroke-width="0.9"/>
<rect x="589.08" y="241.0" width="2.2" height="0.8" fill="#17963a"/>
<line x1="592.95" x2="592.95" y1="232.4" y2="243.5" stroke="#7c7c80" stroke-width="0.9"/>
<rect x="591.85" y="235.3" width="2.2" height="5.7" fill="#17963a"/>
<line x1="595.73" x2="595.73" y1="232.5" y2="246.0" stroke="#7c7c80" stroke-width="0.9"/>
<rect x="594.63" y="235.3" width="2.2" height="7.1" fill="#bd1626"/>
<line x1="598.50" x2="598.50" y1="241.0" y2="247.7" stroke="#7c7c80" stroke-width="0.9"/>
<rect x="597.40" y="242.4" width="2.2" height="4.0" fill="#bd1626"/>
<line x1="601.27" x2="601.27" y1="243.7" y2="257.5" stroke="#7c7c80" stroke-width="0.9"/>
<rect x="600.17" y="246.4" width="2.2" height="4.0" fill="#bd1626"/>
<line x1="604.05" x2="604.05" y1="248.4" y2="254.5" stroke="#7c7c80" stroke-width="0.9"/>
<rect x="602.95" y="250.4" width="2.2" height="2.0" fill="#bd1626"/>
<line x1="606.82" x2="606.82" y1="240.1" y2="255.5" stroke="#7c7c80" stroke-width="0.9"/>
<rect x="605.72" y="243.4" width="2.2" height="9.0" fill="#17963a"/>
<line x1="609.60" x2="609.60" y1="240.5" y2="244.7" stroke="#7c7c80" stroke-width="0.9"/>
<rect x="608.50" y="242.0" width="2.2" height="1.4" fill="#17963a"/>
<line x1="612.37" x2="612.37" y1="240.1" y2="246.5" stroke="#7c7c80" stroke-width="0.9"/>
<rect x="611.27" y="242.0" width="2.2" height="2.8" fill="#bd1626"/>
<line x1="615.15" x2="615.15" y1="243.4" y2="252.6" stroke="#7c7c80" stroke-width="0.9"/>
<rect x="614.05" y="244.8" width="2.2" height="5.6" fill="#bd1626"/>
<line x1="617.92" x2="617.92" y1="247.1" y2="257.5" stroke="#7c7c80" stroke-width="0.9"/>
<rect x="616.82" y="248.5" width="2.2" height="1.9" fill="#17963a"/>
<line x1="620.69" x2="620.69" y1="241.6" y2="250.7" stroke="#7c7c80" stroke-width="0.9"/>
<rect x="619.59" y="242.8" width="2.2" height="5.7" fill="#17963a"/>
<line x1="623.47" x2="623.47" y1="241.0" y2="249.4" stroke="#7c7c80" stroke-width="0.9"/>
<rect x="622.37" y="242.8" width="2.2" height="4.6" fill="#bd1626"/>
<line x1="626.24" x2="626.24" y1="237.9" y2="250.1" stroke="#7c7c80" stroke-width="0.9"/>
<rect x="625.14" y="240.0" width="2.2" height="7.4" fill="#17963a"/>
<line x1="629.02" x2="629.02" y1="238.1" y2="244.5" stroke="#7c7c80" stroke-width="0.9"/>
<rect x="627.92" y="240.0" width="2.2" height="2.8" fill="#bd1626"/>
<line x1="631.79" x2="631.79" y1="227.8" y2="245.0" stroke="#7c7c80" stroke-width="0.9"/>
<rect x="630.69" y="232.3" width="2.2" height="10.5" fill="#17963a"/>
<line x1="634.57" x2="634.57" y1="227.5" y2="234.4" stroke="#7c7c80" stroke-width="0.9"/>
<rect x="633.47" y="229.3" width="2.2" height="3.0" fill="#17963a"/>
<line x1="637.34" x2="637.34" y1="224.4" y2="231.6" stroke="#7c7c80" stroke-width="0.9"/>
<rect x="636.24" y="226.7" width="2.2" height="2.6" fill="#17963a"/>
<line x1="640.11" x2="640.11" y1="225.3" y2="230.4" stroke="#7c7c80" stroke-width="0.9"/>
<rect x="639.01" y="226.7" width="2.2" height="2.0" fill="#bd1626"/>
<line x1="642.89" x2="642.89" y1="219.6" y2="230.6" stroke="#7c7c80" stroke-width="0.9"/>
<rect x="641.79" y="222.7" width="2.2" height="6.0" fill="#17963a"/>
<line x1="645.66" x2="645.66" y1="218.4" y2="224.1" stroke="#7c7c80" stroke-width="0.9"/>
<rect x="644.56" y="220.2" width="2.2" height="2.5" fill="#17963a"/>
<line x1="648.44" x2="648.44" y1="214.7" y2="221.9" stroke="#7c7c80" stroke-width="0.9"/>
<rect x="647.34" y="217.2" width="2.2" height="3.0" fill="#17963a"/>
<line x1="651.21" x2="651.21" y1="212.6" y2="218.5" stroke="#7c7c80" stroke-width="0.9"/>
<rect x="650.11" y="215.2" width="2.2" height="2.0" fill="#17963a"/>
<line x1="653.99" x2="653.99" y1="210.6" y2="216.5" stroke="#7c7c80" stroke-width="0.9"/>
<rect x="652.89" y="213.2" width="2.2" height="2.0" fill="#17963a"/>
<line x1="656.76" x2="656.76" y1="211.7" y2="215.3" stroke="#7c7c80" stroke-width="0.9"/>
<rect x="655.66" y="213.2" width="2.2" height="0.8" fill="#bd1626"/>
<line x1="659.53" x2="659.53" y1="204.7" y2="216.0" stroke="#7c7c80" stroke-width="0.9"/>
<rect x="658.43" y="207.2" width="2.2" height="6.3" fill="#17963a"/>
<line x1="662.31" x2="662.31" y1="203.7" y2="214.1" stroke="#7c7c80" stroke-width="0.9"/>
<rect x="661.21" y="207.2" width="2.2" height="4.7" fill="#bd1626"/>
<line x1="665.08" x2="665.08" y1="206.4" y2="213.9" stroke="#7c7c80" stroke-width="0.9"/>
<rect x="663.98" y="208.1" width="2.2" height="3.8" fill="#17963a"/>
<line x1="667.86" x2="667.86" y1="204.2" y2="210.6" stroke="#7c7c80" stroke-width="0.9"/>
<rect x="666.76" y="205.6" width="2.2" height="2.5" fill="#17963a"/>
<line x1="670.63" x2="670.63" y1="199.1" y2="207.6" stroke="#7c7c80" stroke-width="0.9"/>
<rect x="669.53" y="200.8" width="2.2" height="4.8" fill="#17963a"/>
<line x1="673.41" x2="673.41" y1="192.0" y2="203.4" stroke="#7c7c80" stroke-width="0.9"/>
<rect x="672.31" y="194.5" width="2.2" height="6.3" fill="#17963a"/>
<line x1="676.18" x2="676.18" y1="191.3" y2="196.3" stroke="#7c7c80" stroke-width="0.9"/>
<rect x="675.08" y="194.0" width="2.2" height="0.8" fill="#17963a"/>
<line x1="678.95" x2="678.95" y1="191.9" y2="199.2" stroke="#7c7c80" stroke-width="0.9"/>
<rect x="677.85" y="194.0" width="2.2" height="3.3" fill="#bd1626"/>
<line x1="681.73" x2="681.73" y1="188.5" y2="199.4" stroke="#7c7c80" stroke-width="0.9"/>
<rect x="680.63" y="190.3" width="2.2" height="7.0" fill="#17963a"/>
<line x1="684.50" x2="684.50" y1="188.1" y2="199.4" stroke="#7c7c80" stroke-width="0.9"/>
<rect x="683.40" y="190.3" width="2.2" height="1.2" fill="#bd1626"/>
<line x1="687.28" x2="687.28" y1="185.9" y2="194.9" stroke="#7c7c80" stroke-width="0.9"/>
<rect x="686.18" y="191.5" width="2.2" height="1.8" fill="#bd1626"/>
<line x1="690.05" x2="690.05" y1="191.7" y2="199.6" stroke="#7c7c80" stroke-width="0.9"/>
<rect x="688.95" y="193.3" width="2.2" height="4.7" fill="#bd1626"/>
<line x1="692.83" x2="692.83" y1="186.8" y2="201.5" stroke="#7c7c80" stroke-width="0.9"/>
<rect x="691.73" y="189.3" width="2.2" height="8.7" fill="#17963a"/>
<line x1="695.60" x2="695.60" y1="186.7" y2="195.9" stroke="#7c7c80" stroke-width="0.9"/>
<rect x="694.50" y="189.3" width="2.2" height="4.6" fill="#bd1626"/>
<line x1="698.38" x2="698.38" y1="188.8" y2="196.8" stroke="#7c7c80" stroke-width="0.9"/>
<rect x="697.27" y="190.7" width="2.2" height="3.2" fill="#17963a"/>
<line x1="701.15" x2="701.15" y1="185.9" y2="193.0" stroke="#7c7c80" stroke-width="0.9"/>
<rect x="700.05" y="188.3" width="2.2" height="2.4" fill="#17963a"/>
<line x1="703.92" x2="703.92" y1="185.9" y2="192.4" stroke="#7c7c80" stroke-width="0.9"/>
<rect x="702.82" y="188.3" width="2.2" height="2.4" fill="#bd1626"/>
<line x1="706.70" x2="706.70" y1="186.5" y2="205.4" stroke="#7c7c80" stroke-width="0.9"/>
<rect x="705.60" y="190.7" width="2.2" height="10.7" fill="#bd1626"/>
<line x1="709.47" x2="709.47" y1="196.6" y2="203.4" stroke="#7c7c80" stroke-width="0.9"/>
<rect x="708.37" y="198.4" width="2.2" height="3.0" fill="#17963a"/>
<line x1="712.25" x2="712.25" y1="196.0" y2="208.4" stroke="#7c7c80" stroke-width="0.9"/>
<rect x="711.15" y="198.4" width="2.2" height="6.0" fill="#bd1626"/>
<line x1="715.02" x2="715.02" y1="194.6" y2="206.8" stroke="#7c7c80" stroke-width="0.9"/>
<rect x="713.92" y="196.3" width="2.2" height="8.1" fill="#17963a"/>
<line x1="717.80" x2="717.80" y1="190.0" y2="198.6" stroke="#7c7c80" stroke-width="0.9"/>
<rect x="716.70" y="191.3" width="2.2" height="5.0" fill="#17963a"/>
<line x1="720.57" x2="720.57" y1="185.7" y2="193.4" stroke="#7c7c80" stroke-width="0.9"/>
<rect x="719.47" y="188.3" width="2.2" height="3.0" fill="#17963a"/>
<line x1="723.34" x2="723.34" y1="177.9" y2="191.1" stroke="#7c7c80" stroke-width="0.9"/>
<rect x="722.24" y="179.8" width="2.2" height="8.5" fill="#17963a"/>
<line x1="726.12" x2="726.12" y1="175.0" y2="198.5" stroke="#7c7c80" stroke-width="0.9"/>
<rect x="725.02" y="179.8" width="2.2" height="14.5" fill="#bd1626"/>
<line x1="728.89" x2="728.89" y1="182.9" y2="197.2" stroke="#7c7c80" stroke-width="0.9"/>
<rect x="727.79" y="185.3" width="2.2" height="9.0" fill="#17963a"/>
<line x1="731.67" x2="731.67" y1="177.2" y2="188.0" stroke="#7c7c80" stroke-width="0.9"/>
<rect x="730.57" y="181.3" width="2.2" height="4.0" fill="#17963a"/>
<line x1="734.44" x2="734.44" y1="179.1" y2="185.4" stroke="#7c7c80" stroke-width="0.9"/>
<rect x="733.34" y="181.3" width="2.2" height="2.6" fill="#bd1626"/>
<line x1="737.22" x2="737.22" y1="178.7" y2="185.9" stroke="#7c7c80" stroke-width="0.9"/>
<rect x="736.12" y="180.4" width="2.2" height="3.5" fill="#17963a"/>
<line x1="739.99" x2="739.99" y1="173.3" y2="182.8" stroke="#7c7c80" stroke-width="0.9"/>
<rect x="738.89" y="176.2" width="2.2" height="4.2" fill="#17963a"/>
<line x1="742.76" x2="742.76" y1="172.6" y2="177.4" stroke="#7c7c80" stroke-width="0.9"/>
<rect x="741.66" y="173.8" width="2.2" height="2.4" fill="#17963a"/>
<line x1="745.54" x2="745.54" y1="165.8" y2="176.6" stroke="#7c7c80" stroke-width="0.9"/>
<rect x="744.44" y="168.2" width="2.2" height="5.6" fill="#17963a"/>
<line x1="748.31" x2="748.31" y1="160.5" y2="171.7" stroke="#7c7c80" stroke-width="0.9"/>
<rect x="747.21" y="168.2" width="2.2" height="2.1" fill="#bd1626"/>
<line x1="751.09" x2="751.09" y1="163.0" y2="175.9" stroke="#7c7c80" stroke-width="0.9"/>
<rect x="749.99" y="170.3" width="2.2" height="4.1" fill="#bd1626"/>
<line x1="753.86" x2="753.86" y1="172.2" y2="198.6" stroke="#7c7c80" stroke-width="0.9"/>
<rect x="752.76" y="174.4" width="2.2" height="9.0" fill="#bd1626"/>
<line x1="756.64" x2="756.64" y1="171.5" y2="186.3" stroke="#7c7c80" stroke-width="0.9"/>
<rect x="755.54" y="174.5" width="2.2" height="8.9" fill="#17963a"/>
<line x1="759.41" x2="759.41" y1="167.0" y2="176.4" stroke="#7c7c80" stroke-width="0.9"/>
<rect x="758.31" y="168.5" width="2.2" height="6.0" fill="#17963a"/>
<line x1="762.18" x2="762.18" y1="157.4" y2="170.6" stroke="#7c7c80" stroke-width="0.9"/>
<rect x="761.08" y="161.0" width="2.2" height="7.5" fill="#17963a"/>
<line x1="764.96" x2="764.96" y1="154.8" y2="163.0" stroke="#7c7c80" stroke-width="0.9"/>
<rect x="763.86" y="156.6" width="2.2" height="4.4" fill="#17963a"/>
<line x1="767.73" x2="767.73" y1="151.4" y2="159.2" stroke="#7c7c80" stroke-width="0.9"/>
<rect x="766.63" y="153.4" width="2.2" height="3.2" fill="#17963a"/>
<line x1="770.51" x2="770.51" y1="151.3" y2="158.4" stroke="#7c7c80" stroke-width="0.9"/>
<rect x="769.41" y="153.4" width="2.2" height="1.0" fill="#bd1626"/>
<line x1="773.28" x2="773.28" y1="146.5" y2="156.3" stroke="#7c7c80" stroke-width="0.9"/>
<rect x="772.18" y="153.5" width="2.2" height="0.9" fill="#17963a"/>
<line x1="776.06" x2="776.06" y1="139.2" y2="157.6" stroke="#7c7c80" stroke-width="0.9"/>
<rect x="774.96" y="140.9" width="2.2" height="12.6" fill="#17963a"/>
<line x1="778.83" x2="778.83" y1="135.4" y2="143.1" stroke="#7c7c80" stroke-width="0.9"/>
<rect x="777.73" y="137.3" width="2.2" height="3.6" fill="#17963a"/>
<line x1="781.60" x2="781.60" y1="128.2" y2="138.9" stroke="#7c7c80" stroke-width="0.9"/>
<rect x="780.50" y="134.2" width="2.2" height="3.1" fill="#17963a"/>
<line x1="784.38" x2="784.38" y1="125.2" y2="137.2" stroke="#7c7c80" stroke-width="0.9"/>
<rect x="783.28" y="128.4" width="2.2" height="5.8" fill="#17963a"/>
<line x1="787.15" x2="787.15" y1="126.4" y2="136.2" stroke="#7c7c80" stroke-width="0.9"/>
<rect x="786.05" y="128.4" width="2.2" height="0.8" fill="#bd1626"/>
<line x1="789.93" x2="789.93" y1="125.2" y2="129.7" stroke="#7c7c80" stroke-width="0.9"/>
<rect x="788.83" y="128.2" width="2.2" height="0.8" fill="#17963a"/>
<line x1="792.70" x2="792.70" y1="126.1" y2="135.2" stroke="#7c7c80" stroke-width="0.9"/>
<rect x="791.60" y="127.2" width="2.2" height="1.0" fill="#17963a"/>
<line x1="795.48" x2="795.48" y1="121.7" y2="129.1" stroke="#7c7c80" stroke-width="0.9"/>
<rect x="794.38" y="124.2" width="2.2" height="3.0" fill="#17963a"/>
<line x1="798.25" x2="798.25" y1="122.7" y2="128.2" stroke="#7c7c80" stroke-width="0.9"/>
<rect x="797.15" y="124.2" width="2.2" height="0.8" fill="#bd1626"/>
<line x1="801.02" x2="801.02" y1="120.9" y2="125.9" stroke="#7c7c80" stroke-width="0.9"/>
<rect x="799.92" y="122.8" width="2.2" height="1.5" fill="#17963a"/>
<line x1="803.80" x2="803.80" y1="121.0" y2="127.7" stroke="#7c7c80" stroke-width="0.9"/>
<rect x="802.70" y="122.8" width="2.2" height="3.4" fill="#bd1626"/>
<line x1="806.57" x2="806.57" y1="119.3" y2="128.3" stroke="#7c7c80" stroke-width="0.9"/>
<rect x="805.47" y="122.2" width="2.2" height="4.0" fill="#17963a"/>
<line x1="809.35" x2="809.35" y1="110.2" y2="124.8" stroke="#7c7c80" stroke-width="0.9"/>
<rect x="808.25" y="113.5" width="2.2" height="8.7" fill="#17963a"/>
<line x1="812.12" x2="812.12" y1="110.0" y2="116.0" stroke="#7c7c80" stroke-width="0.9"/>
<rect x="811.02" y="111.5" width="2.2" height="2.0" fill="#17963a"/>
<line x1="814.90" x2="814.90" y1="108.4" y2="124.9" stroke="#7c7c80" stroke-width="0.9"/>
<rect x="813.80" y="111.5" width="2.2" height="9.7" fill="#bd1626"/>
<line x1="817.67" x2="817.67" y1="116.1" y2="128.2" stroke="#7c7c80" stroke-width="0.9"/>
<rect x="816.57" y="121.2" width="2.2" height="2.0" fill="#bd1626"/>
<line x1="820.44" x2="820.44" y1="117.0" y2="127.2" stroke="#7c7c80" stroke-width="0.9"/>
<rect x="819.34" y="123.0" width="2.2" height="0.8" fill="#17963a"/>
<line x1="823.22" x2="823.22" y1="121.6" y2="136.6" stroke="#7c7c80" stroke-width="0.9"/>
<rect x="822.12" y="123.0" width="2.2" height="11.2" fill="#bd1626"/>
<line x1="825.99" x2="825.99" y1="129.2" y2="139.3" stroke="#7c7c80" stroke-width="0.9"/>
<rect x="824.89" y="130.7" width="2.2" height="3.5" fill="#17963a"/>
<line x1="828.77" x2="828.77" y1="126.6" y2="148.6" stroke="#7c7c80" stroke-width="0.9"/>
<rect x="827.67" y="130.7" width="2.2" height="13.6" fill="#bd1626"/>
<line x1="831.54" x2="831.54" y1="131.4" y2="147.3" stroke="#7c7c80" stroke-width="0.9"/>
<rect x="830.44" y="133.3" width="2.2" height="11.0" fill="#17963a"/>
<line x1="834.32" x2="834.32" y1="129.6" y2="143.5" stroke="#7c7c80" stroke-width="0.9"/>
<rect x="833.22" y="133.3" width="2.2" height="8.0" fill="#bd1626"/>
<line x1="837.09" x2="837.09" y1="136.8" y2="153.1" stroke="#7c7c80" stroke-width="0.9"/>
<rect x="835.99" y="141.3" width="2.2" height="10.3" fill="#bd1626"/>
<line x1="839.86" x2="839.86" y1="147.5" y2="158.4" stroke="#7c7c80" stroke-width="0.9"/>
<rect x="838.76" y="148.6" width="2.2" height="3.0" fill="#17963a"/>
<line x1="842.64" x2="842.64" y1="133.5" y2="151.7" stroke="#7c7c80" stroke-width="0.9"/>
<rect x="841.54" y="137.3" width="2.2" height="11.3" fill="#17963a"/>
<line x1="845.41" x2="845.41" y1="136.0" y2="149.5" stroke="#7c7c80" stroke-width="0.9"/>
<rect x="844.31" y="137.3" width="2.2" height="9.2" fill="#bd1626"/>
<line x1="848.19" x2="848.19" y1="131.5" y2="147.9" stroke="#7c7c80" stroke-width="0.9"/>
<rect x="847.09" y="134.0" width="2.2" height="12.5" fill="#17963a"/>
<line x1="850.96" x2="850.96" y1="130.2" y2="135.6" stroke="#7c7c80" stroke-width="0.9"/>
<rect x="849.86" y="132.2" width="2.2" height="1.8" fill="#17963a"/>
<line x1="853.74" x2="853.74" y1="124.4" y2="135.0" stroke="#7c7c80" stroke-width="0.9"/>
<rect x="852.64" y="127.2" width="2.2" height="5.0" fill="#17963a"/>
<line x1="856.51" x2="856.51" y1="125.7" y2="135.1" stroke="#7c7c80" stroke-width="0.9"/>
<rect x="855.41" y="127.2" width="2.2" height="5.4" fill="#bd1626"/>
<line x1="859.28" x2="859.28" y1="117.9" y2="135.4" stroke="#7c7c80" stroke-width="0.9"/>
<rect x="858.18" y="120.8" width="2.2" height="11.8" fill="#17963a"/>
<line x1="862.06" x2="862.06" y1="114.3" y2="122.9" stroke="#7c7c80" stroke-width="0.9"/>
<rect x="860.96" y="116.4" width="2.2" height="4.4" fill="#17963a"/>
<line x1="864.83" x2="864.83" y1="112.4" y2="119.1" stroke="#7c7c80" stroke-width="0.9"/>
<rect x="863.73" y="113.6" width="2.2" height="2.8" fill="#17963a"/>
<line x1="867.61" x2="867.61" y1="112.0" y2="120.3" stroke="#7c7c80" stroke-width="0.9"/>
<rect x="866.51" y="113.6" width="2.2" height="4.2" fill="#bd1626"/>
<line x1="870.38" x2="870.38" y1="116.0" y2="124.9" stroke="#7c7c80" stroke-width="0.9"/>
<rect x="869.28" y="117.8" width="2.2" height="4.7" fill="#bd1626"/>
<line x1="873.16" x2="873.16" y1="120.0" y2="129.3" stroke="#7c7c80" stroke-width="0.9"/>
<rect x="872.06" y="122.5" width="2.2" height="5.2" fill="#bd1626"/>
<line x1="875.93" x2="875.93" y1="112.4" y2="129.8" stroke="#7c7c80" stroke-width="0.9"/>
<rect x="874.83" y="116.0" width="2.2" height="11.7" fill="#17963a"/>
<line x1="878.70" x2="878.70" y1="105.7" y2="119.4" stroke="#7c7c80" stroke-width="0.9"/>
<rect x="877.60" y="107.8" width="2.2" height="8.2" fill="#17963a"/>
<line x1="881.48" x2="881.48" y1="104.6" y2="109.4" stroke="#7c7c80" stroke-width="0.9"/>
<rect x="880.38" y="106.3" width="2.2" height="1.5" fill="#17963a"/>
<line x1="884.25" x2="884.25" y1="95.8" y2="109.0" stroke="#7c7c80" stroke-width="0.9"/>
<rect x="883.15" y="98.6" width="2.2" height="7.7" fill="#17963a"/>
<line x1="887.03" x2="887.03" y1="88.5" y2="100.9" stroke="#7c7c80" stroke-width="0.9"/>
<rect x="885.93" y="95.6" width="2.2" height="3.0" fill="#17963a"/>
<line x1="889.80" x2="889.80" y1="93.0" y2="102.7" stroke="#7c7c80" stroke-width="0.9"/>
<rect x="888.70" y="95.6" width="2.2" height="5.2" fill="#bd1626"/>
<line x1="892.58" x2="892.58" y1="89.4" y2="104.2" stroke="#7c7c80" stroke-width="0.9"/>
<rect x="891.48" y="92.4" width="2.2" height="8.4" fill="#17963a"/>
<line x1="895.35" x2="895.35" y1="85.6" y2="94.6" stroke="#7c7c80" stroke-width="0.9"/>
<rect x="894.25" y="87.4" width="2.2" height="5.0" fill="#17963a"/>
<line x1="898.12" x2="898.12" y1="79.5" y2="92.9" stroke="#7c7c80" stroke-width="0.9"/>
<rect x="897.02" y="87.4" width="2.2" height="3.8" fill="#bd1626"/>
<line x1="900.90" x2="900.90" y1="89.3" y2="105.3" stroke="#7c7c80" stroke-width="0.9"/>
<rect x="899.80" y="91.2" width="2.2" height="1.2" fill="#bd1626"/>
<line x1="903.67" x2="903.67" y1="90.6" y2="101.3" stroke="#7c7c80" stroke-width="0.9"/>
<rect x="902.57" y="92.0" width="2.2" height="0.8" fill="#17963a"/>
<line x1="906.45" x2="906.45" y1="88.2" y2="96.7" stroke="#7c7c80" stroke-width="0.9"/>
<rect x="905.35" y="92.0" width="2.2" height="3.4" fill="#bd1626"/>
<line x1="909.22" x2="909.22" y1="88.2" y2="97.5" stroke="#7c7c80" stroke-width="0.9"/>
<rect x="908.12" y="95.4" width="2.2" height="0.8" fill="#bd1626"/>
<line x1="912.00" x2="912.00" y1="87.2" y2="98.3" stroke="#7c7c80" stroke-width="0.9"/>
<rect x="910.90" y="95.4" width="2.2" height="0.8" fill="#17963a"/>
<line x1="914.77" x2="914.77" y1="85.2" y2="96.9" stroke="#7c7c80" stroke-width="0.9"/>
<rect x="913.67" y="94.8" width="2.2" height="0.8" fill="#17963a"/>
<line x1="917.54" x2="917.54" y1="92.0" y2="100.5" stroke="#7c7c80" stroke-width="0.9"/>
<rect x="916.44" y="94.8" width="2.2" height="3.5" fill="#bd1626"/>
<line x1="920.32" x2="920.32" y1="96.1" y2="108.7" stroke="#7c7c80" stroke-width="0.9"/>
<rect x="919.22" y="98.3" width="2.2" height="8.9" fill="#bd1626"/>
<line x1="923.09" x2="923.09" y1="106.1" y2="123.3" stroke="#7c7c80" stroke-width="0.9"/>
<rect x="921.99" y="107.2" width="2.2" height="0.8" fill="#bd1626"/>
<line x1="925.87" x2="925.87" y1="95.0" y2="110.6" stroke="#7c7c80" stroke-width="0.9"/>
<rect x="924.77" y="98.2" width="2.2" height="9.4" fill="#17963a"/>
<line x1="928.64" x2="928.64" y1="84.5" y2="101.3" stroke="#7c7c80" stroke-width="0.9"/>
<rect x="927.54" y="86.6" width="2.2" height="11.6" fill="#17963a"/>
<line x1="931.42" x2="931.42" y1="84.6" y2="88.6" stroke="#7c7c80" stroke-width="0.9"/>
<rect x="930.32" y="86.2" width="2.2" height="0.8" fill="#17963a"/>
<line x1="934.19" x2="934.19" y1="84.2" y2="88.4" stroke="#7c7c80" stroke-width="0.9"/>
<rect x="933.09" y="85.5" width="2.2" height="0.8" fill="#17963a"/>
<line x1="936.96" x2="936.96" y1="73.2" y2="89.2" stroke="#7c7c80" stroke-width="0.9"/>
<rect x="935.86" y="76.7" width="2.2" height="8.8" fill="#17963a"/>
<line x1="939.74" x2="939.74" y1="65.2" y2="78.4" stroke="#7c7c80" stroke-width="0.9"/>
<rect x="938.64" y="66.6" width="2.2" height="10.1" fill="#17963a"/>
<line x1="942.51" x2="942.51" y1="64.0" y2="78.6" stroke="#7c7c80" stroke-width="0.9"/>
<rect x="941.41" y="66.6" width="2.2" height="3.3" fill="#bd1626"/>
<line x1="945.29" x2="945.29" y1="64.1" y2="74.5" stroke="#7c7c80" stroke-width="0.9"/>
<rect x="944.19" y="69.9" width="2.2" height="3.5" fill="#bd1626"/>
<polyline points="4.8,373.7 7.6,395.7 10.3,397.8 13.1,402.3 15.9,398.8 18.7,395.3 21.4,398.0 24.2,396.6 27.0,405.3 29.8,406.3 32.5,407.7 35.3,413.7 38.1,411.0 40.9,404.0 43.6,399.0 46.4,394.2 49.2,388.9 52.0,396.6 54.7,395.8 57.5,395.0 60.3,393.6 63.1,387.6 65.8,385.8 68.6,387.8 71.4,385.6 74.2,383.6 76.9,380.8 79.7,377.7 82.5,375.4 85.3,369.1 88.0,370.4 90.8,371.2 93.6,386.2 96.4,382.4 99.1,391.8 101.9,387.3 104.7,400.7 107.4,404.0 110.2,410.2 113.0,409.2 115.8,404.0 118.5,409.3 121.3,409.6 124.1,405.5 126.9,407.0 129.6,406.8 132.4,407.5 135.2,408.6 138.0,414.4 140.7,411.3 143.5,408.2 146.3,408.5 149.1,406.9 151.8,408.8 154.6,405.1 157.4,407.7 160.2,409.8 162.9,412.8 165.7,414.7 168.5,415.8 171.3,417.8 174.0,414.4 176.8,410.5 179.6,413.5 182.4,414.3 185.1,412.9 187.9,412.7 190.7,410.7 193.5,407.6 196.2,408.8 199.0,406.7 201.8,403.0 204.5,405.2 207.3,400.6 210.1,398.8 212.9,400.2 215.6,398.6 218.4,401.2 221.2,402.6 224.0,405.8 226.7,402.6 229.5,402.3 232.3,408.1 235.1,410.8 237.8,409.1 240.6,406.9 243.4,406.0 246.2,406.2 248.9,408.7 251.7,405.2 254.5,407.1 257.3,409.8 260.0,405.7 262.8,406.3 265.6,401.3 268.4,401.6 271.1,401.5 273.9,405.8 276.7,399.9 279.5,401.5 282.2,395.9 285.0,398.9 287.8,401.1 290.6,400.2 293.3,405.3 296.1,407.6 298.9,410.4 301.7,405.9 304.4,404.7 307.2,404.3 310.0,402.0 312.7,404.2 315.5,404.8 318.3,403.3 321.1,404.1 323.8,400.2 326.6,399.7 329.4,399.3 332.2,399.7 334.9,401.2 337.7,400.9 340.5,407.4 343.3,413.8 346.0,414.8 348.8,420.0 351.6,420.9 354.4,421.4 357.1,413.7 359.9,407.8 362.7,413.3 365.5,416.3 368.2,414.2 371.0,419.1 373.8,423.8 376.6,426.4 379.3,423.9 382.1,424.3 384.9,425.0 387.7,419.5 390.4,414.3 393.2,412.8 396.0,413.2 398.8,407.4 401.5,406.7 404.3,404.4 407.1,408.4 409.8,406.2 412.6,400.0 415.4,406.1 418.2,402.9 420.9,400.1 423.7,398.4 426.5,403.2 429.3,405.2 432.0,403.2 434.8,407.9 437.6,402.8 440.4,400.5 443.1,398.8 445.9,395.5 448.7,392.6 451.5,391.5 454.2,395.4 457.0,394.2 459.8,396.4 462.6,400.8 465.3,404.1 468.1,408.1 470.9,410.4 473.7,403.5 476.4,406.2 479.2,406.8 482.0,400.2 484.8,398.9 487.5,397.0 490.3,401.3 493.1,406.9 495.9,404.9 498.6,404.3 501.4,402.6 504.2,405.1 506.9,408.0 509.7,406.0 512.5,404.5 515.3,400.8 518.0,398.9 520.8,398.1 523.6,398.7 526.4,392.8 529.1,394.4 531.9,391.9 534.7,396.8 537.5,392.3 540.2,391.6 543.0,390.5 545.8,387.9 548.6,390.1 551.3,386.4 554.1,384.3 556.9,387.9 559.7,385.0 562.4,382.3 565.2,389.4 568.0,385.8 570.8,387.6 573.5,387.1 576.3,383.8 579.1,382.7 581.9,391.7 584.6,386.4 587.4,391.1 590.2,390.8 593.0,386.5 595.7,396.5 598.5,400.9 601.3,404.7 604.0,406.4 606.8,398.9 609.6,397.8 612.4,400.8 615.1,405.8 617.9,404.2 620.7,399.5 623.5,403.8 626.2,398.1 629.0,400.8 631.8,393.5 634.6,391.6 637.3,389.9 640.1,392.4 642.9,388.5 645.7,387.0 648.4,385.2 651.2,384.0 654.0,382.8 656.8,383.4 659.5,379.7 662.3,387.9 665.1,385.4 667.9,383.8 670.6,381.0 673.4,377.9 676.2,377.7 679.0,383.9 681.7,380.0 684.5,382.2 687.3,385.4 690.1,392.7 692.8,386.7 695.6,392.9 698.4,390.7 701.1,389.1 703.9,392.4 706.7,403.5 709.5,401.3 712.2,406.1 715.0,400.2 717.8,396.9 720.6,394.9 723.3,389.6 726.1,402.4 728.9,397.3 731.7,395.2 734.4,397.4 737.2,395.3 740.0,392.9 742.8,391.5 745.5,388.4 748.3,390.9 751.1,395.3 753.9,402.9 756.6,397.4 759.4,393.9 762.2,389.9 765.0,387.7 767.7,386.0 770.5,387.3 773.3,386.8 776.1,380.6 778.8,379.1 781.6,377.9 784.4,375.7 787.2,376.1 789.9,375.9 792.7,375.5 795.5,374.3 798.2,374.5 801.0,373.9 803.8,381.6 806.6,379.2 809.3,375.1 812.1,374.3 814.9,390.8 817.7,393.3 820.4,393.2 823.2,404.6 826.0,401.9 828.8,411.1 831.5,403.9 834.3,408.5 837.1,413.0 839.9,411.4 842.6,405.0 845.4,409.5 848.2,403.1 851.0,402.2 853.7,399.6 856.5,403.0 859.3,396.9 862.1,394.7 864.8,393.3 867.6,396.8 870.4,400.3 873.2,403.7 875.9,397.3 878.7,393.1 881.5,392.4 884.3,388.6 887.0,387.2 889.8,392.5 892.6,388.3 895.4,386.0 898.1,390.1 900.9,391.4 903.7,391.2 906.4,394.8 909.2,395.7 912.0,395.1 914.8,394.7 917.5,398.7 920.3,406.7 923.1,407.0 925.9,399.6 928.6,391.9 931.4,391.7 934.2,391.2 937.0,385.9 939.7,381.0 942.5,385.6 945.3,390.0" fill="none" stroke="#cd97d3" stroke-width="1.05" stroke-linejoin="round"/>
<line x1="795.6" y1="371.6" x2="944" y2="384.4" stroke="#36b492" stroke-width="1.9"/>
<line x1="5" x2="640" y1="363.5" y2="363.5" stroke="#8a8a8a" stroke-width="1"/>
<line x1="957.5" x2="957.5" y1="32" y2="430" stroke="#5a5a5a" stroke-width="1"/>
<line x1="5" x2="957" y1="430.5" y2="430.5" stroke="#5a5a5a" stroke-width="1"/>
<rect x="5" y="443" width="991" height="2" fill="#9c9c9c"/>
<rect x="994" y="31.5" width="2" height="413.5" fill="#8c8c8c"/>
<line x1="958" x2="961" y1="36.5" y2="36.5" stroke="#5a5a5a" stroke-width="1"/>
<text x="962.8" y="39.5" font-size="8.2" fill="#606060">11000.0</text>
<line x1="958" x2="961" y1="60.5" y2="60.5" stroke="#5a5a5a" stroke-width="1"/>
<text x="962.8" y="63.1" font-size="8.2" fill="#606060">8000.0</text>
<line x1="958" x2="961" y1="81.5" y2="81.5" stroke="#5a5a5a" stroke-width="1"/>
<text x="962.8" y="84.4" font-size="8.2" fill="#606060">6000.0</text>
<line x1="958" x2="961" y1="104.5" y2="104.5" stroke="#5a5a5a" stroke-width="1"/>
<text x="962.8" y="107.4" font-size="8.2" fill="#606060">4400.0</text>
<line x1="958" x2="961" y1="128.5" y2="128.5" stroke="#5a5a5a" stroke-width="1"/>
<text x="962.8" y="131.0" font-size="8.2" fill="#606060">3200.0</text>
<line x1="958" x2="961" y1="149.5" y2="149.5" stroke="#5a5a5a" stroke-width="1"/>
<text x="962.8" y="152.3" font-size="8.2" fill="#606060">2400.0</text>
<line x1="958" x2="961" y1="171.5" y2="171.5" stroke="#5a5a5a" stroke-width="1"/>
<text x="962.8" y="173.6" font-size="8.2" fill="#606060">1800.0</text>
<line x1="958" x2="961" y1="201.5" y2="201.5" stroke="#5a5a5a" stroke-width="1"/>
<text x="962.8" y="203.7" font-size="8.2" fill="#606060">1200.0</text>
<line x1="958" x2="961" y1="222.5" y2="222.5" stroke="#5a5a5a" stroke-width="1"/>
<text x="962.8" y="225.0" font-size="8.2" fill="#606060">900.0</text>
<line x1="958" x2="961" y1="246.5" y2="246.5" stroke="#5a5a5a" stroke-width="1"/>
<text x="962.8" y="249.1" font-size="8.2" fill="#606060">650.0</text>
<line x1="958" x2="961" y1="267.5" y2="267.5" stroke="#5a5a5a" stroke-width="1"/>
<text x="962.8" y="270.0" font-size="8.2" fill="#606060">490.0</text>
<line x1="958" x2="961" y1="289.5" y2="289.5" stroke="#5a5a5a" stroke-width="1"/>
<text x="962.8" y="291.9" font-size="8.2" fill="#606060">365.0</text>
<line x1="958" x2="961" y1="312.5" y2="312.5" stroke="#5a5a5a" stroke-width="1"/>
<text x="962.8" y="315.6" font-size="8.2" fill="#606060">265.0</text>
<line x1="958" x2="961" y1="335.5" y2="335.5" stroke="#5a5a5a" stroke-width="1"/>
<text x="962.8" y="338.3" font-size="8.2" fill="#606060">195.0</text>
<line x1="958" x2="961" y1="356.5" y2="356.5" stroke="#5a5a5a" stroke-width="1"/>
<text x="962.8" y="359.3" font-size="8.2" fill="#606060">147.0</text>
<clipPath id="cl"><rect x="958" y="360" width="36" height="69.6"/></clipPath>
<line x1="958" x2="961" y1="383.5" y2="383.5" stroke="#5a5a5a" stroke-width="1"/>
<text x="962.8" y="386.1" font-size="8.2" fill="#606060" clip-path="url(#cl)">75.0000</text>
<line x1="958" x2="961" y1="405.5" y2="405.5" stroke="#5a5a5a" stroke-width="1"/>
<text x="962.8" y="408.1" font-size="8.2" fill="#606060" clip-path="url(#cl)">50.0000</text>
<line x1="958" x2="961" y1="427.5" y2="427.5" stroke="#5a5a5a" stroke-width="1"/>
<text x="962.8" y="430.1" font-size="8.2" fill="#606060" clip-path="url(#cl)">25.0000</text>
<line x1="50.5" x2="50.5" y1="430" y2="433.5" stroke="#5a5a5a" stroke-width="1"/>
<text x="50.4" y="441" font-size="8.4" fill="#333" text-anchor="middle">1999</text>
<line x1="117.5" x2="117.5" y1="430" y2="433.5" stroke="#5a5a5a" stroke-width="1"/>
<text x="116.9" y="441" font-size="8.4" fill="#333" text-anchor="middle">2001</text>
<line x1="183.5" x2="183.5" y1="430" y2="433.5" stroke="#5a5a5a" stroke-width="1"/>
<text x="183.4" y="441" font-size="8.4" fill="#333" text-anchor="middle">2003</text>
<line x1="250.5" x2="250.5" y1="430" y2="433.5" stroke="#5a5a5a" stroke-width="1"/>
<text x="249.9" y="441" font-size="8.4" fill="#333" text-anchor="middle">2005</text>
<line x1="316.5" x2="316.5" y1="430" y2="433.5" stroke="#5a5a5a" stroke-width="1"/>
<text x="316.4" y="441" font-size="8.4" fill="#333" text-anchor="middle">2007</text>
<line x1="383.5" x2="383.5" y1="430" y2="433.5" stroke="#5a5a5a" stroke-width="1"/>
<text x="382.9" y="441" font-size="8.4" fill="#333" text-anchor="middle">2009</text>
<line x1="449.5" x2="449.5" y1="430" y2="433.5" stroke="#5a5a5a" stroke-width="1"/>
<text x="449.4" y="441" font-size="8.4" fill="#333" text-anchor="middle">2011</text>
<line x1="516.5" x2="516.5" y1="430" y2="433.5" stroke="#5a5a5a" stroke-width="1"/>
<text x="516.0" y="441" font-size="8.4" fill="#333" text-anchor="middle">2013</text>
<line x1="582.5" x2="582.5" y1="430" y2="433.5" stroke="#5a5a5a" stroke-width="1"/>
<text x="582.5" y="441" font-size="8.4" fill="#333" text-anchor="middle">2015</text>
<line x1="649.5" x2="649.5" y1="430" y2="433.5" stroke="#5a5a5a" stroke-width="1"/>
<text x="649.0" y="441" font-size="8.4" fill="#333" text-anchor="middle">2017</text>
<line x1="715.5" x2="715.5" y1="430" y2="433.5" stroke="#5a5a5a" stroke-width="1"/>
<text x="715.5" y="441" font-size="8.4" fill="#333" text-anchor="middle">2019</text>
<line x1="782.5" x2="782.5" y1="430" y2="433.5" stroke="#5a5a5a" stroke-width="1"/>
<text x="782.0" y="441" font-size="8.4" fill="#333" text-anchor="middle">2021</text>
<line x1="848.5" x2="848.5" y1="430" y2="433.5" stroke="#5a5a5a" stroke-width="1"/>
<text x="848.5" y="441" font-size="8.4" fill="#333" text-anchor="middle">2023</text>
<line x1="915.5" x2="915.5" y1="430" y2="433.5" stroke="#5a5a5a" stroke-width="1"/>
<text x="915.0" y="441" font-size="8.4" fill="#333" text-anchor="middle">2025</text>
<rect x="957" y="68" width="33" height="12" fill="#f01818"/>
<text x="973.5" y="77" font-size="8.4" font-weight="bold" fill="#fff" text-anchor="middle">6695.3</text>
<text x="8.8" y="11.8" font-size="7.9" fill="#3a3a3a" textLength="265.5" lengthAdjust="spacingAndGlyphs">Published on Investing.com, 18/Dec/2025 - 9:30:50 GMT, Powered by TradingView.</text>
<text x="8.8" y="24" font-size="7.9" font-weight="bold" fill="#111" textLength="238" lengthAdjust="spacingAndGlyphs">Philadelphia Semiconductor Index, Estados Unidos, NASDAQ:SOX, M</text>
<text x="13.7" y="350.9" font-size="15.7" font-weight="bold" fill="#111">Investing<tspan font-weight="normal" font-size="10.9" fill="#707070" dx="-0.2">.com</tspan></text>
<rect x="59.8" y="339.3" width="3.0" height="2.9" rx="1.2" fill="#f6a11c"/>
<text x="9.5" y="374.7" font-size="7.9" fill="#333" textLength="188" lengthAdjust="spacingAndGlyphs">Índice de fuerza relativa (RSI por sus siglas en inglés) (14)</text>
</g>
</svg>
</body></html>
